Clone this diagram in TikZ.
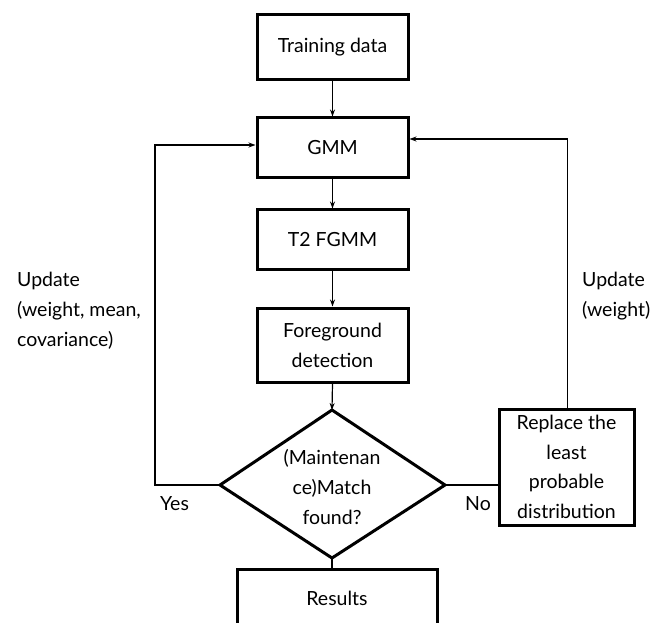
\documentclass[tikz,border=0pt]{standalone}
\usepackage{fontspec}
\setmainfont{Lato}
\usetikzlibrary{arrows.meta,shapes.geometric}
\begin{document}
\begin{tikzpicture}[x=1pt,y=-1pt,
  txt/.style={font=\fontsize{19.5}{30}\selectfont},
  box/.style={draw,line width=3pt,inner sep=0pt,txt,align=center},
  link/.style={line width=1.2pt},
  arr/.style={link,-{Stealth[length=7pt,width=5pt]}},
  lbl/.style={txt,align=left,inner sep=0pt}]
\useasboundingbox (0,0) rectangle (662,623);
% process boxes (pixel coordinates, y downwards)
\node[box,minimum width=151pt,minimum height=65pt] (train) at (332.5,47.5) {Training data};
\node[box,minimum width=151pt,minimum height=60pt] (gmm) at (332.5,148) {GMM};
\node[box,minimum width=151pt,minimum height=59pt] (t2) at (332.5,239.5) {T2 FGMM};
\node[box,minimum width=151pt,minimum height=74pt] (fg) at (332.5,345) {Foreground\\detection};
% decision
\draw[line width=3pt,line join=miter] (332,410) coordinate (dtop) -- (445,485) coordinate (dright)
  -- (332,558) coordinate (dbot) -- (220,485) coordinate (dleft) -- cycle;
\node[txt,align=center,inner sep=0pt] (dec) at (332,487) {(Maintenan\\ce)Match\\found?};
\node[box,minimum width=135pt,minimum height=116pt,font=\fontsize{19.5}{29.5}\selectfont] (rep) at (566.5,467) {Replace the\\least\\probable\\distribution};
\node[box,minimum width=200pt,minimum height=70pt,anchor=north] (res) at (337,568) {};
\node[txt] (restxt) at (337,598) {Results};
% connectors
\draw[arr] (train) -- (gmm);
\draw[arr] (gmm) -- (t2);
\draw[arr] (t2) -- (fg);
\draw[arr] (fg.south) -- (dtop);
\draw[link] (dbot) -- (res.north -| dbot);
\coordinate (lc) at (155,485);
\draw[arr] (dleft) -- (lc) |- ([yshift=3pt]gmm.west);
\draw[link] (dright) -- (dright -| rep.west);
\draw[arr] ([xshift=1pt]rep.north) |- ([yshift=9pt]gmm.east);
% labels
\node[lbl,anchor=north west] (yes) at (160,496) {Yes};
\node[lbl,anchor=north west] (no) at (465,496) {No};
\node[lbl,anchor=north west] (upl) at (17,272) {Update\\(weight, mean,\\covariance)};
\node[lbl,anchor=north west] (upr) at (582,272) {Update\\(weight)};
\end{tikzpicture}
\end{document}
